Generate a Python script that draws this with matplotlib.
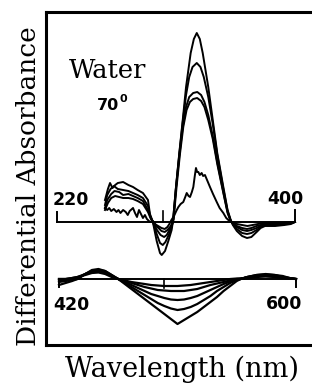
import numpy as np
import matplotlib
matplotlib.use("Agg")
import matplotlib.pyplot as plt

# ---- data (wavelength nm, differential absorbance, arb. units) ----
# upper panel 220-400 nm, five spectra
up_a = [(256.3, 22), (258.5, 33), (260.1, 39), (262, 34), (264, 37), (266, 39), (270, 40),
        (274, 37), (277.5, 35), (281, 32), (285, 29), (288.8, 22), (290.3, 8), (292.5, 0),
        (295.4, -19), (297.9, -31), (299.2, -33), (301.7, -29), (304.2, -19), (306.7, -8),
        (307.8, 2), (310, 35), (312.5, 69), (315.1, 102), (317.6, 135), (321.1, 169),
        (323.5, 183), (325.7, 189), (328, 183), (330.2, 169), (334.4, 135), (337.8, 102),
        (341.2, 69), (345.8, 35), (349, 12), (351.4, 2), (353, -3), (356, -9), (360, -14),
        (363.7, -16), (367, -15), (371, -10), (374, -6), (377.3, -4), (385, -4), (392, -3),
        (397, -2), (400, 0)]
up_b = [(256.3, 17), (258, 27), (260.5, 33), (263, 36), (266, 33), (270, 32), (274, 31),
        (277.5, 29), (281, 27), (285, 24), (288.8, 16), (290.5, 6), (292.5, 0), (295.4, -12),
        (297.9, -21), (300, -23), (302, -20), (304.5, -13), (306.7, -5), (307.8, 2), (310, 35),
        (312.5, 68), (315.1, 100), (317.6, 127), (320, 145), (322.5, 155), (325.7, 159),
        (328.5, 155), (331, 145), (334.4, 125), (337.8, 98), (341.2, 67), (345.8, 33),
        (349, 11), (351.4, 1), (353, -2), (356, -7), (360, -11), (363.7, -12), (367, -11),
        (371, -8), (374, -5), (377.3, -3), (385, -3), (392, -2), (397, -1), (400, 0)]
up_c = [(256.3, 14), (258, 22), (261, 28), (263.5, 31), (267, 30), (270, 27), (274, 28),
        (277.5, 26), (281, 24), (285, 21), (288.8, 12), (291, 4), (292.8, 0), (295.6, -8),
        (298.3, -13), (301, -15), (303, -13), (305, -8), (307, -3), (308, 2), (310, 34),
        (312.5, 66), (315.1, 95), (317.6, 115), (320, 125), (323, 129), (326.1, 130),
        (329, 127), (331.5, 120), (334.4, 107), (337.8, 86), (341.2, 60), (345.8, 30),
        (349, 10), (351.4, 1), (353, -2), (356, -5), (360, -8), (363.7, -9), (367, -8),
        (371, -6), (374, -4), (377.3, -2), (385, -2), (392, -2), (397, -1), (400, 0)]
up_d = [(256.3, 12), (258.5, 19), (261, 24), (264, 26), (267, 25), (270, 24), (274, 24),
        (277.5, 23), (281, 21), (285, 18), (288.8, 10), (291, 3), (293, 0), (296, -5),
        (299, -9), (301.5, -10), (303.5, -8), (305.5, -5), (307.3, -1), (308.2, 3),
        (310.5, 36), (313, 68), (315.5, 95), (318, 112), (320.5, 120), (323, 123), (326, 124),
        (329, 121), (331.5, 115), (334.4, 102), (337.8, 83), (341.2, 58), (345.8, 29),
        (349, 9), (351.4, 1), (353, -1), (356, -4), (360, -6), (363.7, -7), (367, -6),
        (371, -4), (374, -3), (377.3, -2), (385, -1), (392, -1), (400, 0)]
up_e = [(256.3, 14), (258, 12), (259.5, 14), (261, 11), (263, 13), (265, 10), (266.5, 12),
        (268, 9), (270, 12), (272, 10), (273.5, 7), (275, 11), (277.5, 14), (279, 9),
        (280.5, 5), (282, 12), (283.5, 8), (285, 4), (286.5, 7), (288, 3), (290.3, 0),
        (292, 1), (294, -2), (296.5, -4), (299, -6), (301.5, -7), (303.5, -5), (305, -2),
        (306.5, 2), (308.5, 6), (310.2, 11), (311.8, 15), (313.5, 18), (315.5, 20), (317, 25),
        (318.1, 29), (319.5, 26), (320.6, 25), (322, 30), (323.1, 35), (324.2, 46),
        (325.1, 54), (326, 50), (326.9, 50), (328, 47), (329.4, 49), (330.5, 46),
        (331.9, 47), (333.8, 41), (335.7, 35), (338, 28), (340.8, 20), (343, 14), (345.8, 9),
        (348, 4), (349.6, 2), (352, 0), (356, -2), (360, -3), (364, -4), (368, -3), (372, -2),
        (376, -1), (385, -1), (392, -1), (400, 0)]

# lower panel 420-600 nm
lo_nm = [420, 425, 430, 434, 440, 445, 450, 455, 460, 465, 470, 475, 480, 485, 490, 495,
         500, 505, 510, 515, 520, 525, 530, 535, 540, 545, 550, 555, 558, 563, 570, 577,
         584, 590, 595, 600]
lo_a = [-6, -4, -2, 0, 5, 9, 10, 8, 4, 0, -5, -10, -15, -20, -25, -30, -35, -40, -45, -41,
        -37, -33, -28, -23, -18, -12, -7, -2, 0, 2, 4, 5, 4, 3, 1, 0]
lo_b = [-3, -2, -1, 0, 5, 8, 9, 8, 4, 0, -4, -8, -12, -16, -20, -24, -27, -29.5, -31, -30,
        -28, -25, -21, -17, -12, -8, -4, -1, 0, 2, 4, 4.5, 4, 2, 1, 0]
lo_c = [-1, -1, 0, 1, 5, 8, 8, 7, 3, 0, -3, -6, -9, -12, -15, -17, -19, -20.5, -21, -20.5,
        -19, -17, -14, -11, -8, -5, -2.5, -0.5, 0, 2, 3, 4, 3, 2, 1, 0]
lo_d = [0, 0, 1, 2, 5, 7, 7.5, 6, 3, 0, -2, -4, -6, -8, -9.5, -11, -11.5, -12, -12, -12,
        -11, -10, -8, -6, -4.5, -3, -1.5, 0, 0.5, 1.5, 3, 3, 2.5, 1.5, 0.5, 0]
lo_e = [0, 0, 1, 2, 4, 6, 6.5, 5, 2, 0, -1.5, -3, -4, -5, -6, -6.5, -7, -7, -7, -6.5,
        -6, -5, -4, -3, -2, -1, 0, 0.5, 0.5, 1, 2, 2.5, 2, 1, 0.5, 0]

upper = [up_a, up_b, up_c, up_d, up_e]
lower = [lo_a, lo_b, lo_c, lo_d, lo_e]

# ---- figure ----
W, H = 312, 386
fig = plt.figure(figsize=(W / 100, H / 100), dpi=100)

def frac(x, y):
    return x / W, 1 - y / H

rect = [46 / W, 1 - 345 / H, 1 - 46 / W, (345 - 12) / H]
ax = fig.add_axes(rect)
ax.set_xticks([])
ax.set_yticks([])
ax.spines['right'].set_visible(False)
for s in ['top', 'left', 'bottom']:
    ax.spines[s].set_linewidth(2.2)

lw = 1.4
# upper panel: 220 nm at x=57 px, 400 nm at x=295 px, baseline at y=222 px
axu = fig.add_axes(rect)
axu.axis('off')
su = 180 / 238
axu.set_xlim(220 - 11 * su, 220 + (312 - 57) * su)
axu.set_ylim(-(345 - 222), 222 - 12)
axu.plot([220, 400], [0, 0], color='k', lw=1.4)
axu.plot([220, 220], [0, 10], color='k', lw=1.4)
axu.plot([300, 300], [0, 11], color='k', lw=1.2)
axu.plot([400, 400], [0, 12], color='k', lw=1.4)
for sp in upper:
    d = np.array(sp)
    axu.plot(d[:, 0], d[:, 1], color='k', lw=lw)

# lower panel: 420 nm at x=59 px, 600 nm at x=296 px, baseline at y=279 px
axl = fig.add_axes(rect)
axl.axis('off')
sl = 180 / 237
axl.set_xlim(420 - 13 * sl, 420 + (312 - 59) * sl)
axl.set_ylim(-(345 - 279), 279 - 12)
axl.plot([420, 600], [0, 0], color='k', lw=1.4)
axl.plot([420, 420], [0, -8], color='k', lw=1.4)
axl.plot([500, 500], [0, -9], color='k', lw=1.2)
axl.plot([600, 600], [0, -8], color='k', lw=1.4)
for v in lower:
    axl.plot(lo_nm, v, color='k', lw=lw + 0.2)

# ---- text ----
serif = 'DejaVu Serif'
num = dict(family='DejaVu Sans', weight='bold', size=12.5, ha='center', va='center')
fig.text(*frac(71, 200), '220', **num)
fig.text(*frac(285, 199), '400', **num)
fig.text(*frac(71, 305), '420', **num)
fig.text(*frac(284, 304), '600', **num)

fig.text(*frac(108, 71), 'Water', family=serif, size=18.5, ha='center', va='center')
fig.text(*frac(97, 110.5), '70', family='DejaVu Sans', weight='bold', size=11.5,
         ha='left', va='baseline')
fig.text(*frac(120, 102), '0', family='DejaVu Sans', weight='bold', size=8,
         ha='left', va='baseline')

fig.text(*frac(182, 369), 'Wavelength (nm)', family=serif, size=19.5,
         ha='center', va='center')
fig.text(*frac(29, 186), 'Differential Absorbance', family=serif, size=19,
         rotation=90, ha='center', va='center')

fig.savefig('out.png', dpi=100)
